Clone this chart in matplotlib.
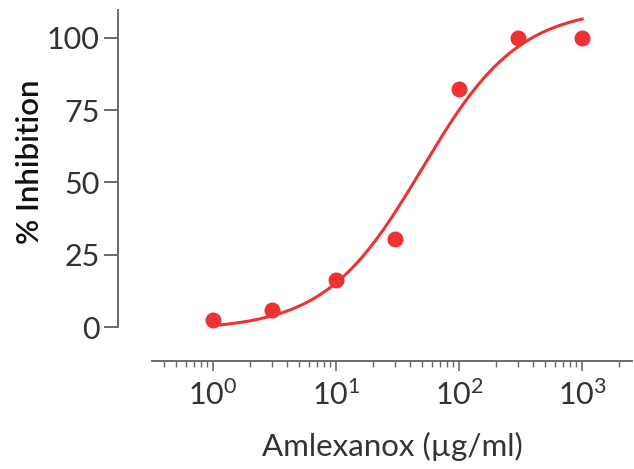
import numpy as np
import matplotlib
matplotlib.use('Agg')
import matplotlib.pyplot as plt
from matplotlib.ticker import FixedLocator, LogFormatterMathtext

plt.rcParams['font.family'] = ['Lato', 'DejaVu Sans']
plt.rcParams['mathtext.fontset'] = 'custom'
plt.rcParams['mathtext.rm'] = 'Lato:light'
plt.rcParams['mathtext.default'] = 'regular'

# measured data
conc = [1, 3, 10, 30, 100, 300, 1000]
inhibition = [2.4, 6.0, 16.3, 30.4, 82.3, 100, 100]

# 4PL fit parameters (bottom, top, EC50, hill)
bottom, top, ec50, hill = -1.0, 110.5, 50.0, 1.1

red = '#ee3131'
grey = '#6b6b6b'

xfit = np.logspace(0, 3, 300)
yfit = bottom + (top - bottom) / (1 + (ec50 / xfit) ** hill)

fig = plt.figure(figsize=(6.34, 4.69), dpi=100)
ax = fig.add_axes([0.186, 0.230, 0.811, 0.749])

ax.plot(xfit, yfit, color=red, lw=2.2, zorder=2)
ax.plot(conc, inhibition, linestyle='', marker='o', color=red, markersize=10.5, zorder=3)

ax.set_xscale('log')
ax.set_xlim(10 ** -0.7724, 10 ** 3.4065)
ax.set_ylim(-11.8, 109.7)

ax.spines['top'].set_visible(False)
ax.spines['right'].set_visible(False)
ax.spines['left'].set_bounds(0, 109.7)
ax.spines['bottom'].set_bounds(10 ** -0.496, 10 ** 3.4065)
for s in ['left', 'bottom']:
    ax.spines[s].set_color(grey)
    ax.spines[s].set_linewidth(1.4)

ax.set_yticks([0, 25, 50, 75, 100])
ax.xaxis.set_major_locator(FixedLocator([1, 10, 100, 1000]))
ax.xaxis.set_major_formatter(LogFormatterMathtext())
minors = [m * 10.0 ** e for e in range(-1, 4) for m in range(2, 10)]
minors = [v for v in minors if 0.35 < v < 2500]
ax.xaxis.set_minor_locator(FixedLocator(minors))

ax.tick_params(axis='y', length=10, width=1.4, color=grey, labelsize=22, labelcolor='#333333', pad=3)
ax.tick_params(axis='x', which='major', length=7, width=1.2, color=grey, labelsize=22, labelcolor='#333333', pad=6)
ax.tick_params(axis='x', which='minor', length=4, width=1.0, color=grey)

ax.set_ylabel('% Inhibition', fontsize=22.5, color='#111111', fontweight='semibold')
ax.yaxis.set_label_coords(-0.144, 0.567)
ax.set_xlabel('Amlexanox (µg/ml)', fontsize=22.5, color='#333333')
ax.xaxis.set_label_coords(0.533, -0.202)

fig.savefig('out.png', dpi=100)
